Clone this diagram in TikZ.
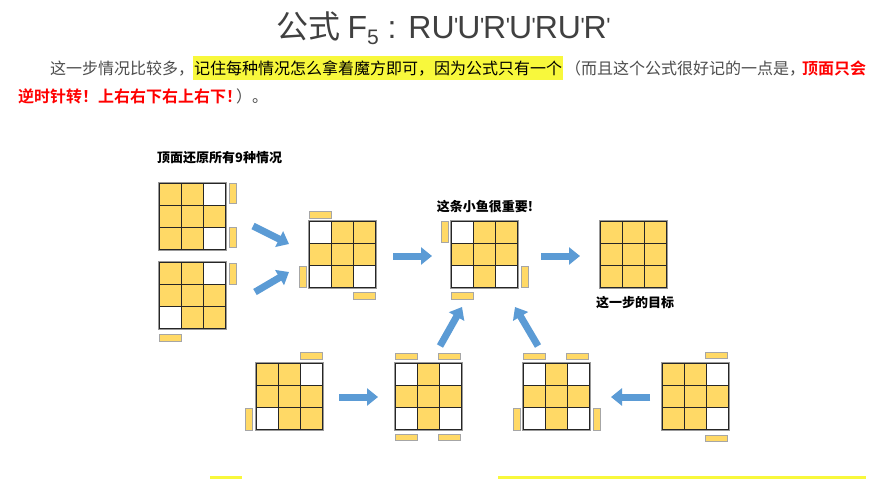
\documentclass[tikz,border=0pt]{standalone}
\usepackage{fontspec}
\setmainfont{Noto Sans CJK SC}
\newfontfamily\cjkb{Noto Sans CJK SC}[BoldFont={Noto Sans CJK SC Bold}]
\newfontfamily\lat{Liberation Sans}
\usetikzlibrary{arrows.meta}
\definecolor{Y}{HTML}{FFD966}
\definecolor{W}{HTML}{FFFFFF}
\definecolor{arrowblue}{HTML}{5B9BD5}
\definecolor{hl}{HTML}{F8F83C}
\definecolor{bodygray}{HTML}{4D4D4D}
\tikzset{
  cell/.style={draw=black!85, line width=0.8pt},
  sticker/.style={fill=Y, draw=black!35, line width=0.8pt},
  bigarrow/.style={draw=arrowblue, line width=7pt, -{Triangle[width=17pt,length=11pt]}},
  lbl/.style={font=\bfseries\fontsize{13}{15}\selectfont, inner sep=0pt},
  body/.style={font=\fontsize{16}{18}\selectfont, inner sep=0pt, anchor=base west, text=bodygray},
}
\newcommand\mygrid[4]{%
  \node[minimum size=66pt, inner sep=0pt] (#1) at (#2+33,#3+33) {};
  \foreach \c [count=\i from 0] in {#4}{%
    \pgfmathtruncatemacro\col{mod(\i,3)}%
    \pgfmathtruncatemacro\row{int(\i/3)}%
    \draw[cell, fill=\c] (#2+\col*22, #3+\row*22) rectangle ++(22,22);
  }%
  \draw[black!40, line width=0.6pt] (#2-0.8,#3-0.8) rectangle ++(67.6,67.6);
}
\newcommand\pr{\kern-0.5pt\raisebox{5pt}{\fontsize{22}{22}\selectfont'}\kern-1pt}
\begin{document}
\begin{tikzpicture}[x=1pt,y=-1pt]
\useasboundingbox (0,0) rectangle (883,479);
\fill[white] (0,0) rectangle (883,479);
% title
\node[font=\fontsize{32}{34}\selectfont, text=black!75, inner sep=0pt] (title) at (443,28) {公式 {\lat F\raisebox{-6pt}{\fontsize{21}{22}\selectfont 5} : RU\pr U\pr R\pr U\pr RU\pr R\pr}};
% body text line 1
\fill[hl] (193,56) rectangle (563,80);
\node[body] (t1) at (50,74) {这一步情况比较多，};
\node[body, text=black] (t2) at (194,74) {记住每种情况怎么拿着魔方即可，因为公式只有一个};
\node[body] (t3) at (565,74) {（而且这个公式很好记的一点是，};
\node[body, text=red, font=\cjkb\bfseries\fontsize{16}{18}\selectfont] (t4) at (802,74) {顶面只会};
\node[body, text=red, font=\cjkb\bfseries\fontsize{16}{18}\selectfont] (t5) at (18,102) {逆时针转！上右右下右上右下！};
\node[body] (t6) at (236,102) {）。};
% labels
\node[lbl, anchor=west] (l1) at (157,158) {顶面还原所有9种情况};
\node[lbl] (l2) at (485,207) {这条小鱼很重要!};
\node[lbl] (l3) at (635,303) {这一步的目标};
% grids
\mygrid{A}{159}{183}{Y,Y,W,Y,Y,Y,Y,Y,W}
\mygrid{B}{159}{262}{Y,Y,W,Y,Y,Y,W,Y,Y}
\mygrid{C}{309}{221}{W,Y,Y,Y,Y,Y,W,Y,W}
\mygrid{D}{451}{221}{W,Y,Y,Y,Y,Y,W,Y,W}
\mygrid{E}{600}{221}{Y,Y,Y,Y,Y,Y,Y,Y,Y}
\mygrid{F}{256}{363}{Y,Y,W,Y,Y,Y,W,Y,Y}
\mygrid{G}{395}{363}{W,Y,W,Y,Y,Y,W,Y,W}
\mygrid{H}{523}{363}{W,Y,W,Y,Y,Y,W,Y,W}
\mygrid{I}{662}{363}{Y,Y,W,Y,Y,Y,Y,Y,W}
% stickers
\draw[sticker] (229,183) rectangle ++(7,20);
\draw[sticker] (229,227) rectangle ++(7,20);
\draw[sticker] (229,263) rectangle ++(7,21);
\draw[sticker] (159,334) rectangle ++(22,7);
\draw[sticker] (309,211) rectangle ++(22,7);
\draw[sticker] (299,266) rectangle ++(7,21);
\draw[sticker] (353,292) rectangle ++(22,7);
\draw[sticker] (441,221) rectangle ++(7,21);
\draw[sticker] (521,266) rectangle ++(7,21);
\draw[sticker] (451,292) rectangle ++(22,7);
\draw[sticker] (300,352) rectangle ++(22,7);
\draw[sticker] (245,408) rectangle ++(7,22);
\draw[sticker] (395,353) rectangle ++(22,6);
\draw[sticker] (438,353) rectangle ++(22,6);
\draw[sticker] (395,434) rectangle ++(22,6);
\draw[sticker] (438,434) rectangle ++(22,6);
\draw[sticker] (523,353) rectangle ++(22,6);
\draw[sticker] (566,353) rectangle ++(22,6);
\draw[sticker] (513,408) rectangle ++(7,22);
\draw[sticker] (593,408) rectangle ++(7,22);
\draw[sticker] (705,352) rectangle ++(22,6);
\draw[sticker] (705,435) rectangle ++(22,6);
% arrow endpoints
\coordinate (a1s) at (253,226); \coordinate (a1e) at (289,244);
\coordinate (a2s) at (255,292); \coordinate (a2e) at (289,272);
\coordinate (a3s) at (393,256); \coordinate (a3e) at (432,256);
\coordinate (a4s) at (541,256); \coordinate (a4e) at (580,256);
\coordinate (a5s) at (339,397); \coordinate (a5e) at (378,397);
\coordinate (a6s) at (650,397); \coordinate (a6e) at (611,397);
\coordinate (a7s) at (440,346); \coordinate (a7e) at (462,307);
\coordinate (a8s) at (538,346); \coordinate (a8e) at (515,307);
\foreach \n in {1,...,8} \draw[bigarrow] (a\n s) -- (a\n e);
% bottom highlight fragments
\fill[hl] (210,476) rectangle (242,479);
\fill[hl] (498,476) rectangle (866,479);
\end{tikzpicture}
\end{document}
